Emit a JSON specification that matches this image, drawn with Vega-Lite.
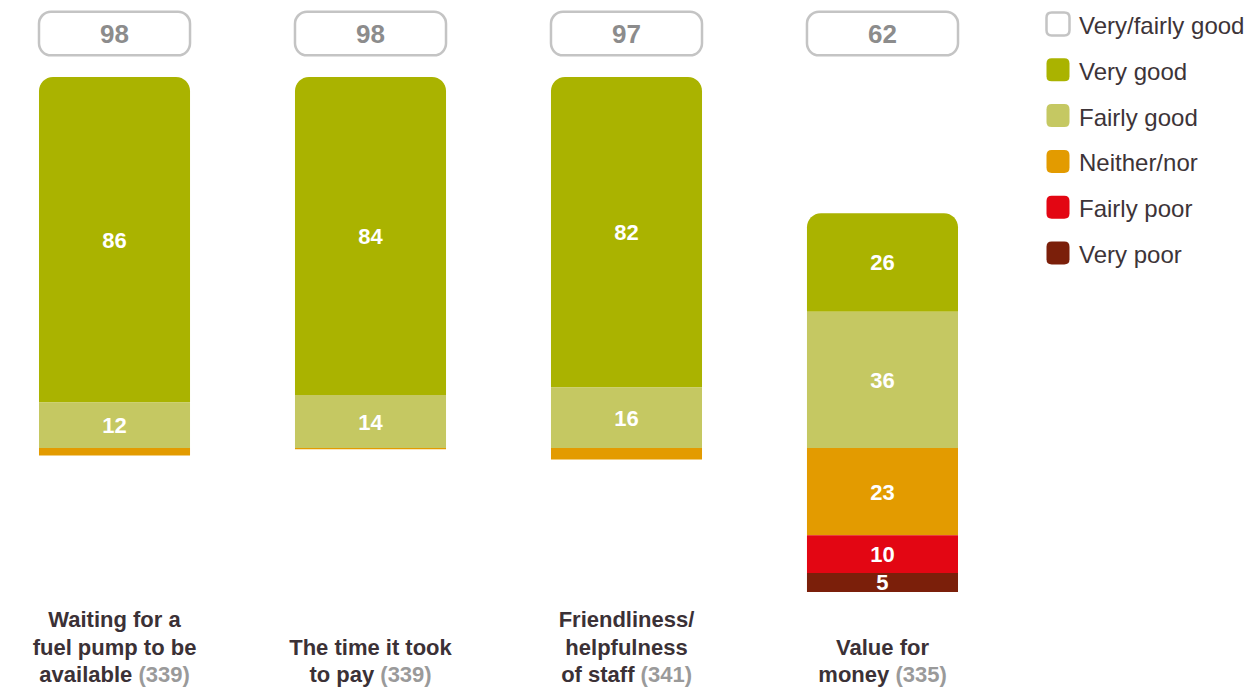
{
  "$schema": "https://vega.github.io/schema/vega-lite/v6.json",
  "width": 987,
  "height": 687,
  "autosize": "none",
  "padding": {"left": 5, "top": 0, "right": 264, "bottom": 0},
  "config": {"view": {"stroke": null}},
  "datasets": {
    "seg": [
      {"item": "Waiting", "cat": "Very good", "value": 86},
      {"item": "Waiting", "cat": "Fairly good", "value": 12},
      {"item": "Waiting", "cat": "Neither/nor", "value": -2},
      {"item": "Time", "cat": "Very good", "value": 84},
      {"item": "Time", "cat": "Fairly good", "value": 14},
      {"item": "Time", "cat": "Neither/nor", "value": -0.3},
      {"item": "Staff", "cat": "Very good", "value": 82},
      {"item": "Staff", "cat": "Fairly good", "value": 16},
      {"item": "Staff", "cat": "Neither/nor", "value": -3},
      {"item": "Value", "cat": "Very good", "value": 26},
      {"item": "Value", "cat": "Fairly good", "value": 36},
      {"item": "Value", "cat": "Neither/nor", "value": -23},
      {"item": "Value", "cat": "Fairly poor", "value": -10},
      {"item": "Value", "cat": "Very poor", "value": -5}
    ],
    "items": [
      {"item": "Waiting", "total": 98, "upper": "Waiting for a\nfuel pump to be", "dark": "available", "grey": "(339)"},
      {"item": "Time", "total": 98, "upper": "The time it took", "dark": "to pay", "grey": "(339)"},
      {"item": "Staff", "total": 97, "upper": "Friendliness/\nhelpfulness", "dark": "of staff", "grey": "(341)"},
      {"item": "Value", "total": 62, "upper": "Value for", "dark": "money", "grey": "(335)"}
    ]
  },
  "layer": [
    {
      "data": {"name": "seg"},
      "transform": [
        {"calculate": "indexof(['Fairly good','Very good','Neither/nor','Fairly poor','Very poor'], datum.cat)", "as": "ord"},
        {"stack": "value", "groupby": ["item"], "sort": [{"field": "ord"}], "as": ["v0", "v1"]}
      ],
      "mark": {"type": "bar", "cornerRadiusTopLeft": {"expr": "datum.cat === 'Very good' ? 14 : 0"}, "cornerRadiusTopRight": {"expr": "datum.cat === 'Very good' ? 14 : 0"}},
      "encoding": {
        "x": {"field": "item", "type": "nominal", "axis": null, "scale": {"domain": ["Waiting", "Time", "Staff", "Value"], "paddingInner": 0.41, "paddingOuter": 0.1328}},
        "y": {"field": "v1", "type": "quantitative", "axis": null, "scale": {"domain": [-63.1, 118.3], "nice": false, "zero": false}},
        "y2": {"field": "v0"},
        "color": {
          "field": "cat", "type": "nominal",
          "scale": {"domain": ["Very/fairly good", "Very good", "Fairly good", "Neither/nor", "Fairly poor", "Very poor"], "range": ["#ffffff", "#aab300", "#c5c862", "#e39b00", "#e30613", "#7b1f0a"]},
          "legend": {
            "orient": "none", "legendX": 1040, "legendY": 11, "title": null, "padding": 0,
            "symbolType": "M-1,-0.55Q-1,-1,-0.55,-1L0.55,-1Q1,-1,1,-0.55L1,0.55Q1,1,0.55,1L-0.55,1Q-1,1,-1,0.55Z",
            "symbolSize": 529, "symbolStrokeWidth": 2.5, "symbolOpacity": 1,
            "labelFontSize": 24, "labelFont": "Liberation Sans", "labelColor": "#3d3438", "labelOffset": 8, "labelLimit": 300,
            "rowPadding": 11.8,
            "encode": {
              "symbols": {"update": {"stroke": {"signal": "datum.value === 'Very/fairly good' ? '#c4c4c4' : 'transparent'"}, "fillOpacity": {"value": 1}}},
              "labels": {"update": {"dy": {"value": 3}}}
            }
          }
        }
      }
    },
    {
      "mark": {"type": "rule", "strokeDash": [2, 3.5], "strokeWidth": 2.2, "color": "#999999"},
      "encoding": {"y": {"datum": 0, "type": "quantitative", "scale": {"domain": [-63.1, 118.3], "nice": false, "zero": false}}}
    },
    {
      "data": {"name": "seg"},
      "transform": [
        {"calculate": "indexof(['Fairly good','Very good','Neither/nor','Fairly poor','Very poor'], datum.cat)", "as": "ord"},
        {"stack": "value", "groupby": ["item"], "sort": [{"field": "ord"}], "as": ["v0", "v1"]},
        {"filter": "abs(datum.value) >= 5"},
        {"calculate": "(datum.v0 + datum.v1) / 2", "as": "mid"},
        {"calculate": "abs(datum.value)", "as": "lab"}
      ],
      "mark": {"type": "text", "font": "Liberation Sans", "fontWeight": "bold", "fontSize": 22, "color": "#ffffff", "baseline": "middle", "dy": 1},
      "encoding": {
        "x": {"field": "item", "type": "nominal", "scale": {"domain": ["Waiting", "Time", "Staff", "Value"]}},
        "y": {"field": "mid", "type": "quantitative", "scale": {"domain": [-63.1, 118.3], "nice": false, "zero": false}},
        "text": {"field": "lab", "type": "quantitative"}
      }
    },
    {
      "data": {"name": "items"},
      "mark": {"type": "bar", "fill": "#ffffff", "stroke": "#c4c4c4", "strokeWidth": 2.5, "cornerRadius": 12},
      "encoding": {
        "x": {"field": "item", "type": "nominal", "scale": {"domain": ["Waiting", "Time", "Staff", "Value"]}},
        "y": {"datum": 115.2, "type": "quantitative", "scale": {"domain": [-63.1, 118.3], "nice": false, "zero": false}},
        "y2": {"datum": 103.7}
      }
    },
    {
      "data": {"name": "items"},
      "mark": {"type": "text", "font": "Liberation Sans", "fontWeight": "bold", "fontSize": 26, "color": "#8c8c8c", "baseline": "middle", "dy": 1},
      "encoding": {
        "x": {"field": "item", "type": "nominal", "scale": {"domain": ["Waiting", "Time", "Staff", "Value"]}},
        "y": {"datum": 109.4, "type": "quantitative", "scale": {"domain": [-63.1, 118.3], "nice": false, "zero": false}},
        "text": {"field": "total", "type": "quantitative"}
      }
    },
    {
      "data": {"name": "items"},
      "mark": {"type": "text", "font": "Liberation Sans", "fontWeight": "bold", "fontSize": 22, "color": "#3b3136", "baseline": "alphabetic", "lineBreak": "\n", "lineHeight": 28,
        "dy": {"expr": "indexof(datum.upper, '\\n') >= 0 ? -28 : 0"}},
      "encoding": {
        "x": {"field": "item", "type": "nominal", "scale": {"domain": ["Waiting", "Time", "Staff", "Value"]}},
        "y": {"datum": -54.6, "type": "quantitative", "scale": {"domain": [-63.1, 118.3], "nice": false, "zero": false}},
        "text": {"field": "upper", "type": "nominal"}
      }
    },
    {
      "data": {"name": "items"},
      "mark": {"type": "text", "font": "Liberation Sans", "fontWeight": "bold", "fontSize": 22, "color": "#3b3136", "baseline": "alphabetic", "align": "right",
        "dx": {"expr": "datum.item === 'Waiting' ? 17.8 : datum.item === 'Time' ? 3.7 : datum.item === 'Staff' ? 8 : 6.8"}},
      "encoding": {
        "x": {"field": "item", "type": "nominal", "scale": {"domain": ["Waiting", "Time", "Staff", "Value"]}},
        "y": {"datum": -61.8, "type": "quantitative", "scale": {"domain": [-63.1, 118.3], "nice": false, "zero": false}},
        "text": {"field": "dark", "type": "nominal"}
      }
    },
    {
      "data": {"name": "items"},
      "mark": {"type": "text", "font": "Liberation Sans", "fontWeight": "bold", "fontSize": 22, "color": "#9a9a9a", "baseline": "alphabetic", "align": "left",
        "dx": {"expr": "datum.item === 'Waiting' ? 23.9 : datum.item === 'Time' ? 9.8 : datum.item === 'Staff' ? 14.1 : 12.9"}},
      "encoding": {
        "x": {"field": "item", "type": "nominal", "scale": {"domain": ["Waiting", "Time", "Staff", "Value"]}},
        "y": {"datum": -61.8, "type": "quantitative", "scale": {"domain": [-63.1, 118.3], "nice": false, "zero": false}},
        "text": {"field": "grey", "type": "nominal"}
      }
    }
  ]
}
